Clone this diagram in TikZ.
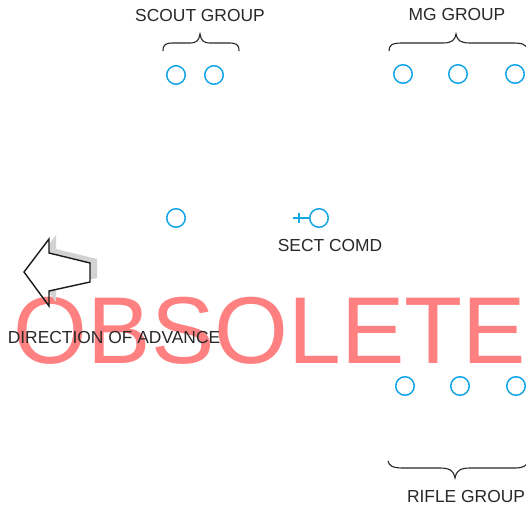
\documentclass[tikz,border=0pt]{standalone}
\usepackage{fontspec}
\setmainfont{Liberation Sans}
\definecolor{ringblue}{RGB}{20,165,230}
\definecolor{txtgray}{RGB}{40,40,40}
\definecolor{obsred}{RGB}{255,128,128}
\definecolor{shadowgray}{RGB}{210,210,210}
\begin{document}
\begin{tikzpicture}[x=1pt,y=-1pt,
  soldier/.style={circle,draw=ringblue,line width=1.5pt,minimum size=18.5pt,inner sep=0pt},
  lbl/.style={font=\fontsize{17.4}{19}\selectfont,text=txtgray,inner sep=0pt,anchor=base},
  bracepath/.style={draw=black!85,line width=1.1pt},
  arrowline/.style={draw=black!90,line width=1.4pt,line join=miter}]
\useasboundingbox (0,0) rectangle (526,505);

% watermark
\node[font=\fontsize{95}{100}\selectfont,text=obsred,inner sep=0pt,anchor=base] (obs) at (270,363) {OBSOLETE};

% direction arrow with shadow
\begin{scope}[even odd rule]
  \clip (-10,-10) rectangle (540,520)
    (24,272) -- (49,239) -- (49,253) -- (90,263) -- (90,282) -- (49,291) -- (49,306) -- cycle;
  \fill[shadowgray] (31,268) -- (56,235) -- (56,249) -- (97,259) -- (97,278) -- (56,287) -- (56,302) -- cycle;
\end{scope}
\draw[arrowline] (24,272) -- (49,239) -- (49,253) -- (90,263) -- (90,282) -- (49,291) -- (49,306) -- cycle;

% scout group
\node[lbl] (scoutlbl) at (200,22) {SCOUT GROUP};
\draw[bracepath] (163,51) .. controls (163,44) and (166,43) .. (174,43) -- (190,43)
  .. controls (197,43) and (199,40) .. (200,34) .. controls (201,40) and (203,43) .. (210,43)
  -- (228,43) .. controls (236,43) and (239,44) .. (239,51);
\node[soldier] (s1) at (176,75) {};
\node[soldier] (s2) at (214,75) {};

% MG group
\node[lbl] (mglbl) at (457,21) {MG GROUP};
\draw[bracepath] (389,51) .. controls (389,45) and (392,43) .. (402,43) -- (443,43)
  .. controls (452,43) and (455,40) .. (456,34) .. controls (457,40) and (460,43) .. (470,43)
  -- (512,43) .. controls (522,43) and (526,44) .. (528,50);
\node[soldier] (m1) at (403,74) {};
\node[soldier] (m2) at (458,74) {};
\node[soldier] (m3) at (515,74) {};

% lone soldier and section commander
\node[soldier] (lone) at (176,218) {};
\node[soldier] (cmd) at (319,218) {};
\coordinate (plusl) at (293,218);
\draw[ringblue,line width=1.5pt] (plusl) -- (cmd.west);
\draw[ringblue,line width=1.5pt] (299,213) -- (299,223);
\node[lbl] (cmdlbl) at (330,251) {SECT COMD};

% direction label
\node[lbl] (dirlbl) at (114,343) {DIRECTION OF ADVANCE};

% rifle group
\node[soldier] (r1) at (405,386) {};
\node[soldier] (r2) at (460,386) {};
\node[soldier] (r3) at (516,386) {};
\draw[bracepath] (388,461) .. controls (389,466) and (393,468) .. (403,468) -- (440,468)
  .. controls (450,468) and (454,471) .. (455,478) .. controls (456,471) and (460,468) .. (470,468)
  -- (515,468) .. controls (523,468) and (526,466) .. (528,462);
\node[lbl] (riflelbl) at (466,502) {RIFLE GROUP};
\end{tikzpicture}
\end{document}
